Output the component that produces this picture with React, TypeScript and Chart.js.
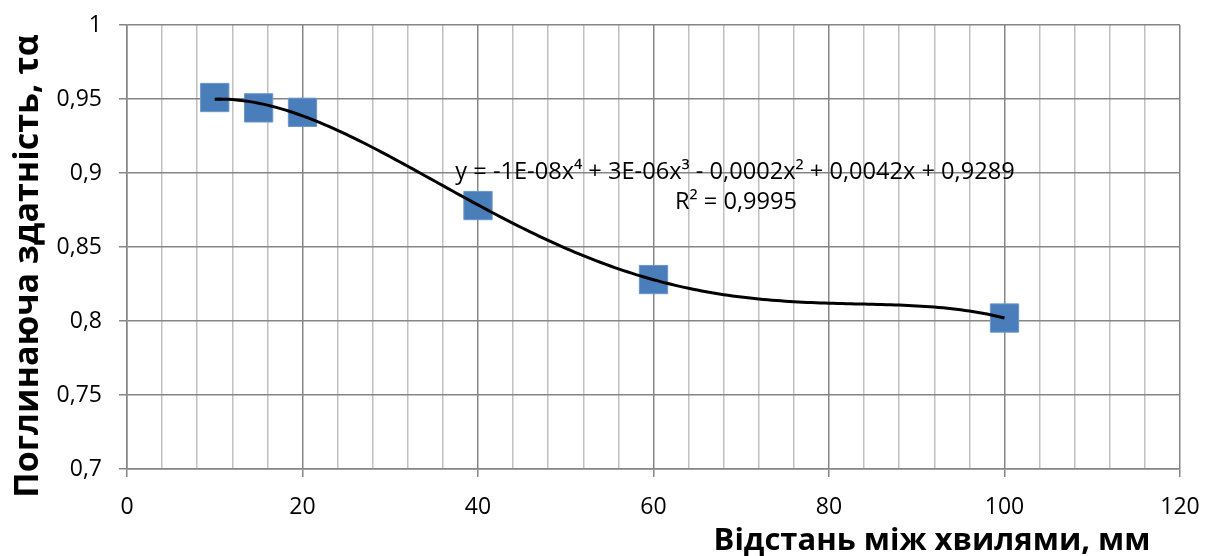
import React, { useEffect, useRef } from 'react';
import { Chart, registerables } from 'chart.js';

Chart.register(...registerables);

const distances = [10, 15, 20, 40, 60, 100];
const absorption = [0.951, 0.944, 0.941, 0.878, 0.828, 0.802];
const xMin = 0;
const xMax = 120;
const yMin = 0.7;
const yMax = 1;
const yTitle = 'Поглинаюча здатність, τα';
const xTitle = 'Відстань між хвилями, мм';
const equationText = 'y = -1E-08x⁴ + 3E-06x³ - 0,0002x² + 0,0042x + 0,9289';
const r2Text = 'R² = 0,9995';

const FONT = '"Open Sans", "Noto Sans", sans-serif';

// least-squares polynomial (degree 4) trendline, like the spreadsheet trendline
function fitPoly(xs: number[], ys: number[], deg: number): number[] {
  const n = deg + 1;
  const s = 100;
  const A: number[][] = Array.from({ length: n }, () => new Array(n + 1).fill(0));
  for (let k = 0; k < xs.length; k++) {
    const x = xs[k] / s;
    for (let i = 0; i < n; i++) {
      for (let j = 0; j < n; j++) A[i][j] += Math.pow(x, i + j);
      A[i][n] += ys[k] * Math.pow(x, i);
    }
  }
  for (let c = 0; c < n; c++) {
    let p = c;
    for (let r = c + 1; r < n; r++) if (Math.abs(A[r][c]) > Math.abs(A[p][c])) p = r;
    [A[c], A[p]] = [A[p], A[c]];
    for (let r = 0; r < n; r++) {
      if (r === c) continue;
      const f = A[r][c] / A[c][c];
      for (let j = c; j <= n; j++) A[r][j] -= f * A[c][j];
    }
  }
  return A.map((row, i) => row[n] / row[i] / Math.pow(s, i));
}

const coeffs = fitPoly(distances, absorption, 4);
const evalPoly = (x: number) => coeffs.reduce((acc, c, i) => acc + c * Math.pow(x, i), 0);
const trendX: number[] = [];
for (let x = distances[0]; x <= distances[distances.length - 1]; x += 0.5) trendX.push(x);
const trendPoints = trendX.map((x) => ({ x, y: evalPoly(x) }));

const MAJOR = '#868686';
const MINOR = '#c0c0c0';

const textPlugin = {
  id: 'texts',
  afterDraw(chart: any) {
    const ctx = chart.ctx;
    ctx.save();
    ctx.fillStyle = '#000';
    ctx.textAlign = 'center';
    ctx.textBaseline = 'alphabetic';
    ctx.font = `23.6px ${FONT}`;
    ctx.fillText(equationText, 735, 179);
    ctx.fillText(r2Text, 736, 209);
    ctx.font = `bold 31px ${FONT}`;
    ctx.fillText(xTitle, 932, 550);
    ctx.translate(38, 266);
    ctx.rotate(-Math.PI / 2);
    ctx.font = `bold 34px ${FONT}`;
    ctx.fillText(yTitle, 0, 0);
    ctx.restore();
  },
};

export default function App() {
  const ref = useRef<HTMLCanvasElement>(null);
  useEffect(() => {
    if (!ref.current) return;
    const chart = new Chart(ref.current, {
      type: 'scatter',
      data: {
        datasets: [
          {
            label: 'trend',
            data: trendPoints,
            showLine: true,
            borderColor: '#000',
            borderWidth: 3,
            pointRadius: 0,
            tension: 0,
            order: 1,
          },
          {
            label: 'data',
            data: distances.map((x, i) => ({ x, y: absorption[i] })),
            pointStyle: 'rect',
            pointRadius: 20,
            backgroundColor: '#4a7ebb',
            borderColor: '#6a96c8',
            borderWidth: 1,
            order: 2,
          },
        ],
      },
      options: {
        responsive: false,
        animation: false,
        layout: { padding: { left: 0, top: 25, right: 33, bottom: 0 } },
        plugins: { legend: { display: false }, tooltip: { enabled: false } },
        scales: {
          x: {
            type: 'linear',
            min: xMin,
            max: xMax,
            afterFit: (s: any) => { s.height = 87; s.paddingLeft = 0; s.paddingRight = 0; },
            ticks: {
              stepSize: 4,
              autoSkip: false,
              maxRotation: 0,
              padding: 17,
              color: '#000',
              font: { family: FONT, size: 23 },
              callback: (v: any) => (Math.round(v) % 20 === 0 ? String(Math.round(v)) : ''),
            },
            grid: {
              color: (c: any) => (Math.round(c.tick.value) % 20 === 0 ? MAJOR : MINOR),
              tickColor: (c: any) => (Math.round(c.tick.value) % 20 === 0 ? MAJOR : 'rgba(0,0,0,0)'),
              tickLength: 8,
              lineWidth: 1.5,
            },
            border: { color: MAJOR, width: 1.5 },
          },
          y: {
            type: 'linear',
            min: yMin,
            max: yMax,
            afterFit: (s: any) => { s.width = 127; s.paddingTop = 0; s.paddingBottom = 0; },
            ticks: {
              stepSize: 0.05,
              padding: 17,
              color: '#000',
              font: { family: FONT, size: 23 },
              callback: (v: any) => String(Math.round(v * 100) / 100).replace('.', ','),
            },
            grid: { color: MAJOR, tickColor: MAJOR, tickLength: 8, lineWidth: 1.5 },
            border: { color: MAJOR, width: 1.5 },
          },
        },
      },
      plugins: [textPlugin],
    });
    return () => chart.destroy();
  }, []);
  return (
    <div style={{ position: 'fixed', left: 0, top: 0, width: 1213, height: 556, background: '#fff' }}>
      <canvas ref={ref} width={1213} height={556} />
    </div>
  );
}
